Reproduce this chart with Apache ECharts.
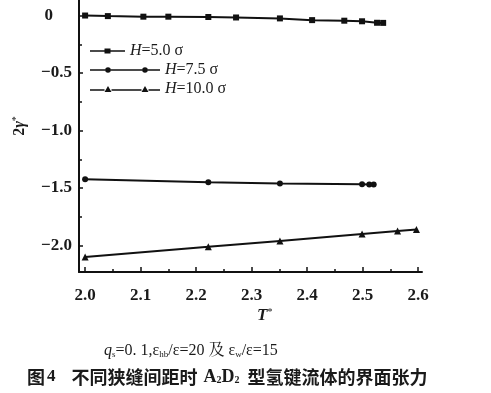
<!DOCTYPE html>
<html>
<head>
<meta charset="utf-8">
<script src="https://cdn.jsdelivr.net/npm/echarts@6/dist/echarts.min.js"></script>
<style>html,body{margin:0;padding:0;background:#fff}#c{width:491px;height:393px}</style>
</head>
<body>
<div id="c"></div>
<script>
// ---- data ----
const h50T = [2.0, 2.041, 2.105, 2.15, 2.222, 2.272, 2.351, 2.409, 2.467, 2.499, 2.526, 2.537];
const h50G = [0.0, -0.005, -0.01, -0.01, -0.013, -0.017, -0.025, -0.04, -0.045, -0.05, -0.063, -0.064];
const h75T = [2.0, 2.222, 2.351, 2.499, 2.512, 2.52];
const h75G = [-1.424, -1.45, -1.46, -1.468, -1.469, -1.47];
const h10T = [2.0, 2.222, 2.351, 2.499, 2.563, 2.597];
const h10G = [-2.10, -2.01, -1.96, -1.90, -1.874, -1.86];
const xMajor = [2.0, 2.1, 2.2, 2.3, 2.4, 2.5, 2.6];
const xMinor = [2.05, 2.15, 2.25, 2.35, 2.45, 2.55];
const yMajor = [0, -0.5, -1.0, -1.5, -2.0];
const yMinor = [-0.25, -0.75, -1.25, -1.75];
const names = ['H=5.0 σ', 'H=7.5 σ', 'H=10.0 σ'];

const zip = (a, b) => a.map((v, i) => [v, b[i]]);
const serif = 'Liberation Serif';
const X0 = 1.989, X1 = 2.607, Y0 = -2.23, Y1 = 0.135;

const chart = echarts.init(document.getElementById('c'), null, {renderer: 'canvas'});

const axisLineStyle = {show: true, onZero: false, lineStyle: {color: '#111', width: 2}};
const labelFont = {fontFamily: serif, fontSize: 17, fontWeight: 'bold', color: '#1a1a1a'};

const legendText = {
  fontFamily: serif, fontSize: 16, color: '#1a1a1a',
  rich: {
    i: {fontFamily: serif, fontSize: 16, fontStyle: 'italic', color: '#1a1a1a'},
    n: {fontFamily: serif, fontSize: 16, color: '#1a1a1a'}
  }
};
const legFmt = (n) => '{i|H}{n|' + n.slice(1) + '}';

// legend icons (line segments with markers)
const icon1 = 'path://M0 2.3H14.5V3.7H0Z M14.5 0.5H20.5V5.5H14.5Z M20.5 2.3H35V3.7H20.5Z';
const circ = (cx) => 'M' + (cx + 2.8) + ' 3A2.8 2.8 0 1 0 ' + (cx - 2.8) + ' 3A2.8 2.8 0 1 0 ' + (cx + 2.8) + ' 3Z';
const icon2 = 'path://M0 0.2H0.01V0.21H0Z M0 2.3H15.2V3.7H0Z ' + circ(18) + ' M20.8 2.3H52.2V3.7H20.8Z ' + circ(55) + ' M57.8 2.3H70V3.7H57.8Z M69.99 5.8H70V5.79H69.99Z';
const tri = (cx) => 'M' + cx + ' 0L' + (cx + 3.5) + ' 6L' + (cx - 3.5) + ' 6Z';
const icon3 = 'path://M0 3.3H14.5V4.7H0Z ' + tri(18) + ' M21.5 3.3H51.5V4.7H21.5Z ' + tri(55) + ' M58.5 3.3H70V4.7H58.5Z';

chart.setOption({
  backgroundColor: '#fff',
  animation: false,
  grid: {left: 79, top: 0, width: 343, height: 272, containLabel: false},
  legend: [
    {data: [names[0]], left: 90, top: 43, padding: 0, itemWidth: 35, itemHeight: 6, icon: icon1,
     formatter: legFmt, textStyle: legendText, selectedMode: false},
    {data: [names[1]], left: 90, top: 62, padding: 0, itemWidth: 70, itemHeight: 6, icon: icon2,
     formatter: legFmt, textStyle: legendText, selectedMode: false},
    {data: [names[2]], left: 90, top: 81, padding: 0, itemWidth: 70, itemHeight: 7, icon: icon3,
     formatter: legFmt, textStyle: legendText, selectedMode: false}
  ],
  xAxis: [
    {type: 'value', min: X0, max: X1, position: 'bottom', axisLine: axisLineStyle,
     splitLine: {show: false},
     axisTick: {show: true, inside: true, length: 5, customValues: xMajor, lineStyle: {color: '#111', width: 1.5}},
     axisLabel: Object.assign({show: true, margin: 15, customValues: xMajor, formatter: v => v.toFixed(1)}, labelFont)},
    {type: 'value', min: X0, max: X1, position: 'bottom', axisLine: {show: false, onZero: false},
     splitLine: {show: false},
     axisTick: {show: true, inside: true, length: 3, customValues: xMinor, lineStyle: {color: '#111', width: 1.5}},
     axisLabel: {show: false}}
  ],
  yAxis: [
    {type: 'value', min: Y0, max: Y1, position: 'left', axisLine: axisLineStyle,
     splitLine: {show: false},
     axisTick: {show: true, inside: true, length: 4, customValues: yMajor, lineStyle: {color: '#111', width: 1.5}},
     axisLabel: Object.assign({show: true, margin: 7, customValues: yMajor,
       formatter: v => v === 0 ? '{z|0}' : v.toFixed(1).replace('-', '\u2212'),
       rich: {z: {fontFamily: serif, fontSize: 17, fontWeight: 'bold', color: '#1a1a1a', padding: [0, 19, 0, 0]}}
     }, labelFont)},
    {type: 'value', min: Y0, max: Y1, position: 'left', axisLine: {show: false, onZero: false},
     splitLine: {show: false},
     axisTick: {show: true, inside: true, length: 3, customValues: yMinor, lineStyle: {color: '#111', width: 1.5}},
     axisLabel: {show: false}}
  ],
  series: [
    {name: names[0], type: 'line', data: zip(h50T, h50G), symbol: 'rect', symbolSize: 6,
     lineStyle: {color: '#111', width: 2}, itemStyle: {color: '#111'}, color: '#111'},
    {name: names[1], type: 'line', data: zip(h75T, h75G), symbol: 'circle', symbolSize: 6,
     lineStyle: {color: '#111', width: 2}, itemStyle: {color: '#111'}, color: '#111'},
    {name: names[2], type: 'line', data: zip(h10T, h10G), symbol: 'triangle', symbolSize: 7,
     lineStyle: {color: '#111', width: 2}, itemStyle: {color: '#111'}, color: '#111'}
  ],
  graphic: [
    {type: 'text', left: 257, top: 307, style: {
      text: '{i|T}{s|*}', rich: {
        i: {fontFamily: serif, fontSize: 17, fontStyle: 'italic', fontWeight: 'bold', fill: '#1a1a1a'},
        s: {fontFamily: serif, fontSize: 10, fill: '#1a1a1a', verticalAlign: 'top', padding: [0, 0, 8, 0]}
      }}},
    {type: 'text', x: 20, y: 126, rotation: Math.PI / 2, style: {
      text: '{n|2}{i|γ}{s|*}', align: 'center', verticalAlign: 'middle', rich: {
        n: {fontFamily: serif, fontSize: 16, fontWeight: 'bold', fill: '#1a1a1a'},
        i: {fontFamily: serif, fontSize: 16, fontStyle: 'italic', fontWeight: 'bold', fill: '#1a1a1a'},
        s: {fontFamily: serif, fontSize: 10, fill: '#1a1a1a', padding: [0, 0, 8, 0]}
      }}},
    {type: 'text', left: 104, top: 343, style: {
      text: '{i|q}{b|s}{n|=0. 1,ε}{b|hb}{n|/ε=20 及 ε}{b|w}{n|/ε=15}', rich: {
        i: {fontFamily: serif, fontSize: 16, fontStyle: 'italic', fill: '#1a1a1a'},
        n: {fontFamily: 'Liberation Serif, Noto Serif CJK SC, Noto Sans CJK SC', fontSize: 16, fill: '#1a1a1a'},
        b: {fontFamily: serif, fontSize: 9, fill: '#1a1a1a', verticalAlign: 'bottom', padding: [6, 0, 0, 0]}
      }}},
    {type: 'text', left: 27, top: 368, style: {
      text: '{h|图}{g1| }{d|4}{g2| }{h|不同狭缝间距时}{g3| }{a|A}{b|2}{a|D}{b|2}{g4| }{h|型氢键流体的界面张力}', rich: {
        h: {fontFamily: 'Noto Sans CJK SC', fontSize: 18, fontWeight: 'bold', fill: '#1a1a1a'},
        d: {fontFamily: serif, fontSize: 17, fontWeight: 'bold', fill: '#1a1a1a'},
        g1: {fontSize: 10, width: 2},
        g2: {fontSize: 10, width: 16},
        g3: {fontSize: 10, width: 6},
        g4: {fontSize: 10, width: 8},
        a: {fontFamily: serif, fontSize: 18, fontWeight: 'bold', fill: '#1a1a1a'},
        b: {fontFamily: serif, fontSize: 10, fontWeight: 'bold', fill: '#1a1a1a', padding: [6, 0, 0, 0]}
      }}}
  ]
});
</script>
</body>
</html>
